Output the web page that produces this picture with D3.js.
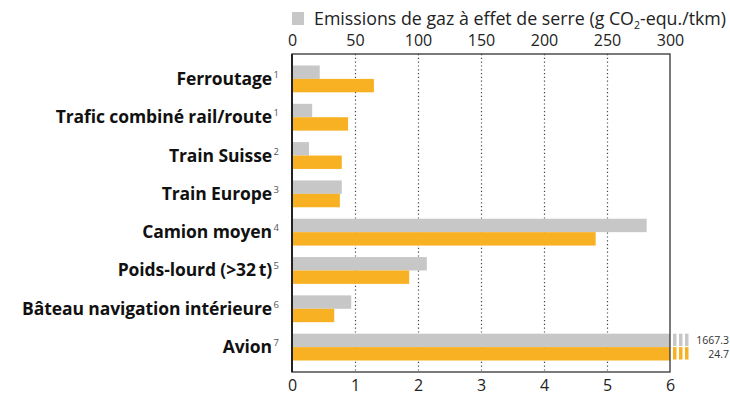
<!DOCTYPE html>
<html>
<head>
<meta charset="utf-8">
<script src="https://cdn.jsdelivr.net/npm/d3@7"></script>
<style>
  html, body { margin: 0; padding: 0; background: #fff; }
  svg { display: block; font-family: "Open Sans", "DejaVu Sans", sans-serif; }
</style>
</head>
<body>
<svg id="chart" width="730" height="395"></svg>
<script>
// Transport modes and their footnote references
const categories = ["Ferroutage", "Trafic combiné rail/route", "Train Suisse", "Train Europe",
                    "Camion moyen", "Poids-lourd (>32\u2009t)", "Bâteau navigation intérieure", "Avion"];
const footnotes = ["1", "1", "2", "3", "4", "5", "6", "7"];

// Greenhouse gas emissions (g CO2-equ./tkm), top axis
const emissions = [22, 16, 13.5, 39.5, 281.5, 107, 47, 1667.3];
// Second indicator, bottom axis
const secondary = [1.30, 0.89, 0.79, 0.76, 4.82, 1.86, 0.67, 24.7];

const topTicks = [0, 50, 100, 150, 200, 250, 300];
const bottomTicks = [0, 1, 2, 3, 4, 5, 6];
const legendLabel = "Emissions de gaz à effet de serre (g CO";
const legendTail = "-equ./tkm)";

const grey = "#c6c7c6", orange = "#f8b122";

const svg = d3.select("#chart");
const pLeft = 292, pRight = 670, pTop = 54, pBottom = 372;

const xTop = d3.scaleLinear().domain([0, 300]).range([pLeft, pRight]).clamp(true);
const xBot = d3.scaleLinear().domain([0, 6]).range([pLeft, pRight]).clamp(true);
const y = d3.scaleBand().domain(categories).range([pTop, pBottom]).paddingInner(0.3).paddingOuter(0.3);
const half = y.bandwidth() / 2;

// Legend
svg.append("rect").attr("x", 292).attr("y", 12).attr("width", 12).attr("height", 13).attr("fill", grey);
const lt = svg.append("text").attr("x", 314).attr("y", 25).attr("font-size", 17.8).attr("fill", "#222");
lt.append("tspan").text(legendLabel);
lt.append("tspan").attr("font-size", 10.5).attr("dy", 4).text("2");
lt.append("tspan").attr("dy", -4).text(legendTail);

// Dotted gridlines
svg.append("g").selectAll("line").data(topTicks.slice(1, -1)).join("line")
  .attr("x1", d => Math.round(xTop(d)) + 0.5).attr("x2", d => Math.round(xTop(d)) + 0.5)
  .attr("y1", pTop).attr("y2", pBottom)
  .attr("stroke", "#444").attr("stroke-width", 1.2).attr("stroke-dasharray", "1.2,2.6");

// Bars
const g = svg.append("g");
g.selectAll("rect.em").data(categories).join("rect").attr("class", "em")
  .attr("x", pLeft).attr("y", d => y(d))
  .attr("width", (d, i) => xTop(emissions[i]) - pLeft).attr("height", half).attr("fill", grey);
g.selectAll("rect.sec").data(categories).join("rect").attr("class", "sec")
  .attr("x", pLeft).attr("y", d => y(d) + half)
  .attr("width", (d, i) => xBot(secondary[i]) - pLeft).attr("height", half).attr("fill", orange);

// Break marks and values for bars exceeding the axis
const over = categories.map((c, i) => i).filter(i => emissions[i] > 300 || secondary[i] > 6);
over.forEach(i => {
  const c = categories[i];
  [[emissions[i], y(c), grey], [secondary[i], y(c) + half, orange]].forEach(([v, yy, col]) => {
    [0, 1, 2].forEach(j => svg.append("rect")
      .attr("x", pRight + 3 + j * 6).attr("y", yy).attr("width", 3.5).attr("height", half - 1).attr("fill", col));
    svg.append("text").attr("x", 729).attr("y", yy + half / 2 + 4)
      .attr("text-anchor", "end").attr("font-size", 10.5).attr("fill", "#333")
      .text(d3.format(".1f")(v));
  });
});

// Frame
svg.append("rect").attr("x", pLeft).attr("y", pTop).attr("width", pRight - pLeft).attr("height", pBottom - pTop)
  .attr("fill", "none").attr("stroke", "#333").attr("stroke-width", 1.3);
svg.append("line").attr("x1", pLeft).attr("x2", pLeft).attr("y1", pTop).attr("y2", pBottom)
  .attr("stroke", "#222").attr("stroke-width", 2);

// Axes
const axTop = svg.append("g").attr("transform", `translate(0,${pTop})`)
  .call(d3.axisTop(xTop).tickValues(topTicks).tickSize(0).tickPadding(8));
const axBot = svg.append("g").attr("transform", `translate(0,${pBottom})`)
  .call(d3.axisBottom(xBot).tickValues(bottomTicks).tickFormat(d3.format("d")).tickSize(0).tickPadding(8));
[axTop, axBot].forEach(a => {
  a.select(".domain").remove();
  a.selectAll("text").attr("font-size", 16).attr("fill", "#222").attr("font-family", "Open Sans, sans-serif");
});

// Category labels with footnote markers
svg.append("g").selectAll("text").data(categories).join("text")
  .attr("x", 272).attr("y", d => y(d) + y.bandwidth() / 2 + 6)
  .attr("text-anchor", "end").attr("font-size", 17.5).attr("font-weight", "bold").attr("fill", "#111")
  .attr("letter-spacing", -0.1)
  .text(d => d);
svg.append("g").selectAll("text").data(categories).join("text")
  .attr("x", 273.5).attr("y", d => y(d) + y.bandwidth() / 2 - 1)
  .attr("font-size", 9.5).attr("fill", "#555")
  .text((d, i) => footnotes[i]);
</script>
</body>
</html>
